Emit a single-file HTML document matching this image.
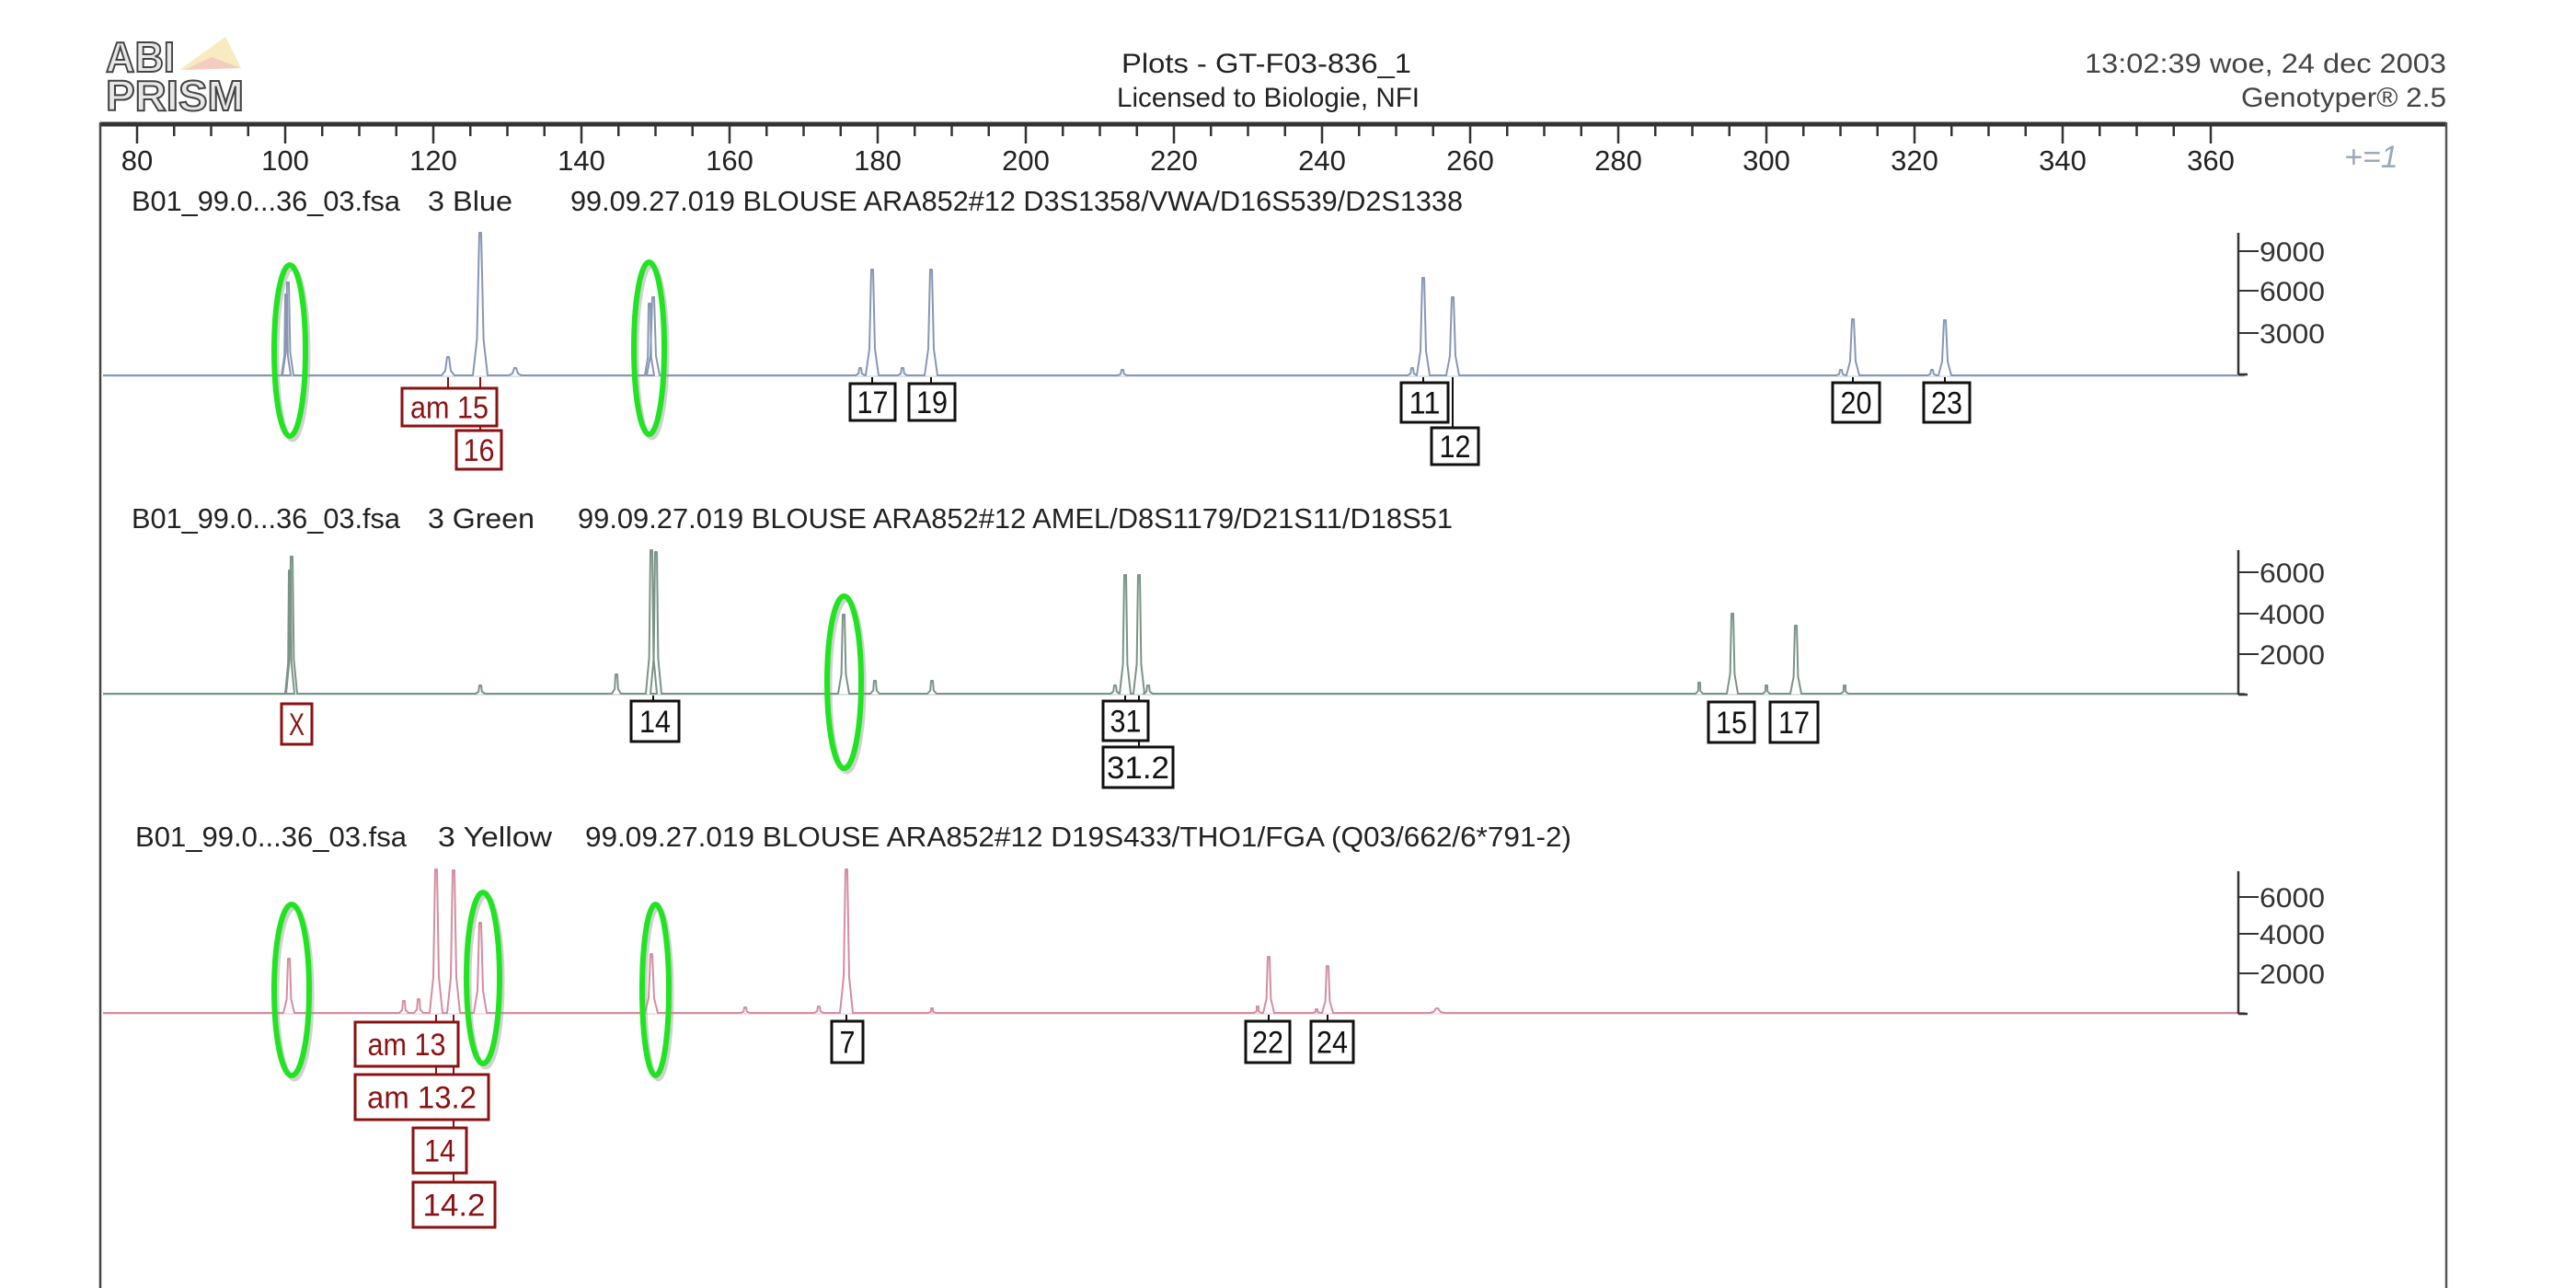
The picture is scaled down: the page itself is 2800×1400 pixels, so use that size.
<!DOCTYPE html>
<html><head><meta charset="utf-8">
<style>
html,body{margin:0;padding:0;background:#fff;}
svg{display:block;}
text{font-family:"Liberation Sans",sans-serif;}
</style></head>
<body>
<svg id="s" width="2800" height="1400" viewBox="0 0 2800 1400" xmlns="http://www.w3.org/2000/svg">
<rect width="2800" height="1400" fill="#fff"/>
<!-- logo -->
<text x="115" y="78" font-size="46" font-weight="bold" fill="#e8e8e8" stroke="#444" stroke-width="2" textLength="75" lengthAdjust="spacingAndGlyphs">ABI</text>
<text x="115" y="120" font-size="46" font-weight="bold" fill="#e8e8e8" stroke="#444" stroke-width="2" textLength="150" lengthAdjust="spacingAndGlyphs">PRISM</text>
<polygon points="195,76 245,40 262,74" fill="#f6e6b0" opacity="0.8"/>
<polygon points="200,76 230,62 262,74" fill="#f2c0c0" opacity="0.7"/>
<!-- header -->
<text x="1219" y="79" font-size="30" fill="#222" textLength="315" lengthAdjust="spacingAndGlyphs">Plots  -  GT-F03-836_1</text>
<text x="1214" y="116" font-size="30" fill="#222" textLength="329" lengthAdjust="spacingAndGlyphs">Licensed to Biologie, NFI</text>
<text x="2266" y="79" font-size="30" fill="#444" textLength="393" lengthAdjust="spacingAndGlyphs">13:02:39  woe,  24  dec  2003</text>
<text x="2436" y="116" font-size="30" fill="#444" textLength="223" lengthAdjust="spacingAndGlyphs">Genotyper®  2.5</text>
<!-- frame -->
<line x1="109" y1="135" x2="2659" y2="135" stroke="#333" stroke-width="5"/>
<line x1="109" y1="133" x2="109" y2="1400" stroke="#444" stroke-width="2.5"/>
<line x1="2659" y1="133" x2="2659" y2="1400" stroke="#555" stroke-width="2.5"/>
<g id="ticks" stroke="#333" stroke-width="2.5"></g>
<g id="tl" font-size="31" fill="#222" text-anchor="middle"></g>
<text x="2548" y="182" font-size="34" fill="#9ab" font-style="italic">+=1</text>
<!-- titles -->
<g font-size="31" fill="#222">
<text x="143" y="229" textLength="292" lengthAdjust="spacingAndGlyphs">B01_99.0...36_03.fsa</text>
<text x="465" y="229" textLength="92" lengthAdjust="spacingAndGlyphs">3  Blue</text>
<text x="620" y="229" textLength="970" lengthAdjust="spacingAndGlyphs">99.09.27.019  BLOUSE  ARA852#12  D3S1358/VWA/D16S539/D2S1338</text>
<text x="143" y="574" textLength="292" lengthAdjust="spacingAndGlyphs">B01_99.0...36_03.fsa</text>
<text x="465" y="574" textLength="116" lengthAdjust="spacingAndGlyphs">3  Green</text>
<text x="628" y="574" textLength="951" lengthAdjust="spacingAndGlyphs">99.09.27.019  BLOUSE  ARA852#12  AMEL/D8S1179/D21S11/D18S51</text>
<text x="147" y="920" textLength="295" lengthAdjust="spacingAndGlyphs">B01_99.0...36_03.fsa</text>
<text x="476" y="920" textLength="124" lengthAdjust="spacingAndGlyphs">3  Yellow</text>
<text x="636" y="920" textLength="1072" lengthAdjust="spacingAndGlyphs">99.09.27.019  BLOUSE  ARA852#12  D19S433/THO1/FGA  (Q03/662/6*791-2)</text>
</g>
<g id="traces"></g>
<g id="scales"></g>
<g id="boxes"></g>
<g id="ell"></g>
</svg>
<script>
var NS="http://www.w3.org/2000/svg";
function el(p,t,a,txt){var e=document.createElementNS(NS,t);for(var k in a)e.setAttribute(k,a[k]);if(txt!=null)e.textContent=txt;document.getElementById(p).appendChild(e);return e;}
function X(v){return 149+(v-80)*8.05;}
for(var v=80;v<=360;v+=5){var maj=(v%20==0);el("ticks","line",{x1:X(v),y1:135,x2:X(v),y2:maj?156:148});if(maj)el("tl","text",{x:X(v),y:185},String(v));}
function trace(y0,col,peaks,x1){
  var d="M112 "+y0;
  peaks.sort(function(a,b){return a[0]-b[0]});
  for(var i=0;i<peaks.length;i++){var p=peaks[i],px=p[0],top=p[1],w=p[2]||5;
    d+=" L"+(px-w-2)+" "+y0+" L"+(px-w*0.6)+" "+(y0-(y0-top)*0.25)+" L"+(px-1)+" "+top+" L"+(px+1)+" "+top+" L"+(px+w*0.6)+" "+(y0-(y0-top)*0.25)+" L"+(px+w+2)+" "+y0;}
  d+=" L"+x1+" "+y0;
  el("traces","path",{d:d,fill:"none",stroke:col,"stroke-width":2,"stroke-linejoin":"round"});
  el("traces","line",{x1:112,y1:y0+1,x2:x1,y2:y0+1,stroke:col,"stroke-width":1,opacity:0.5});
}
trace(408,"#8797b3",[[313,307,4],[311,320,3],[487,388],[522,253,6],[560,400],[710,323,5],[706,330,3],[935,400,3],[948,293,5],[981,400,3],[1012,293,5],[1220,402,3],[1535,400,3],[1547,302,5],[1579,323,5],[2001,402,3],[2014,347,5],[2100,402,3],[2114,348,5]],2440);
trace(754,"#7a9487",[[317,605,4],[315,620,3],[522,745,3],[670,733,3],[708,598,4],[713,600,4],[917,668,4],[951,740,3],[1013,740,3],[1212,745,3],[1223,625,4],[1238,625,4],[1248,745,3],[1847,742,2],[1883,667,4],[1920,745,2],[1952,680,4],[2005,745,2]],2440);
trace(1101,"#d48da0",[[314,1042,4],[439,1088,3],[455,1086,3],[474,945,5],[493,946,5],[522,1003,5],[708,1037,5],[810,1095,3],[890,1094,3],[920,945,5],[1013,1096,2],[1367,1094,2],[1379,1040,4],[1431,1097,2],[1443,1050,4],[1562,1096,6]],2440);
function scale(top,bot,labels){el("scales","line",{x1:2433,y1:top,x2:2433,y2:bot,stroke:"#333","stroke-width":2.5});
 el("scales","line",{x1:2433,y1:bot,x2:2443,y2:bot,stroke:"#333","stroke-width":2.5});
 for(var i=0;i<labels.length;i++){el("scales","line",{x1:2433,y1:labels[i][0],x2:2455,y2:labels[i][0],stroke:"#333","stroke-width":2});
 el("scales","text",{x:2456,y:labels[i][0]+11,"font-size":30,fill:"#333",textLength:71,lengthAdjust:"spacingAndGlyphs"},labels[i][1]);}}
scale(253,407,[[273,"9000"],[316,"6000"],[362,"3000"]]);
scale(598,755,[[622,"6000"],[667,"4000"],[711,"2000"]]);
scale(947,1102,[[975,"6000"],[1015,"4000"],[1058,"2000"]]);
function box(x1,y1,x2,y2,t,red){var c=red?"#8b1212":"#111";
 el("boxes","rect",{x:x1,y:y1,width:x2-x1,height:y2-y1,fill:"#fff",stroke:c,"stroke-width":3});
 var tw=Math.min(x2-x1-8,t.length*17);
 el("boxes","text",{x:(x1+x2)/2,y:(y1+y2)/2+12,"font-size":34,fill:c,"text-anchor":"middle",textLength:tw,lengthAdjust:"spacingAndGlyphs"},t);}
function ln(x,y1,y2,red){el("boxes","line",{x1:x,y1:y1,x2:x,y2:y2,stroke:red?"#8b1212":"#111","stroke-width":2});}
ln(487,410,422,1);ln(522,410,422,1);ln(522,463,468,1);
box(437,422,540,463,"am 15",1);box(496,468,545,510,"16",1);
ln(948,410,417);ln(1012,410,417);
box(924,417,973,457,"17");box(988,417,1038,457,"19");
ln(1547,410,416);ln(1579,410,465);
box(1523,416,1574,459,"11");box(1556,465,1607,505,"12");
ln(2014,410,416);ln(2114,410,416);
box(1992,416,2043,459,"20");box(2091,416,2141,459,"23");
box(306,765,339,809,"X",1);
ln(710,756,762);box(686,762,738,806,"14");
ln(1223,756,762);ln(1238,756,762);ln(1238,805,812);
box(1199,762,1248,805,"31");box(1199,812,1275,856,"31.2");
box(1857,763,1907,807,"15");box(1924,763,1976,807,"17");
ln(474,1103,1111,1);ln(493,1103,1111,1);ln(474,1159,1168,1);ln(493,1159,1168,1);ln(493,1217,1226,1);ln(493,1275,1285,1);
box(386,1111,498,1159,"am 13",1);box(386,1168,531,1217,"am 13.2",1);
box(449,1226,507,1275,"14",1);box(449,1285,538,1334,"14.2",1);
ln(920,1103,1110);box(904,1110,938,1155,"7");
ln(1379,1103,1110);ln(1443,1103,1110);
box(1354,1110,1402,1155,"22");box(1425,1110,1471,1155,"24");
function E(x1,y1,x2,y2){var cx=(x1+x2)/2,cy=(y1+y2)/2,rx=(x2-x1)/2-3,ry=(y2-y1)/2-3;
 el("ell","ellipse",{cx:cx+3,cy:cy+4,rx:rx,ry:ry,fill:"none",stroke:"#999","stroke-width":5,opacity:0.45});
 el("ell","ellipse",{cx:cx,cy:cy,rx:rx,ry:ry,fill:"none",stroke:"#22e322","stroke-width":6});}
E(295,285,335,477);E(686,282,725,475);
E(896,645,939,838);
E(295,980,339,1172);E(504,967,546,1159);E(695,980,730,1172);
</script>
</body></html>
